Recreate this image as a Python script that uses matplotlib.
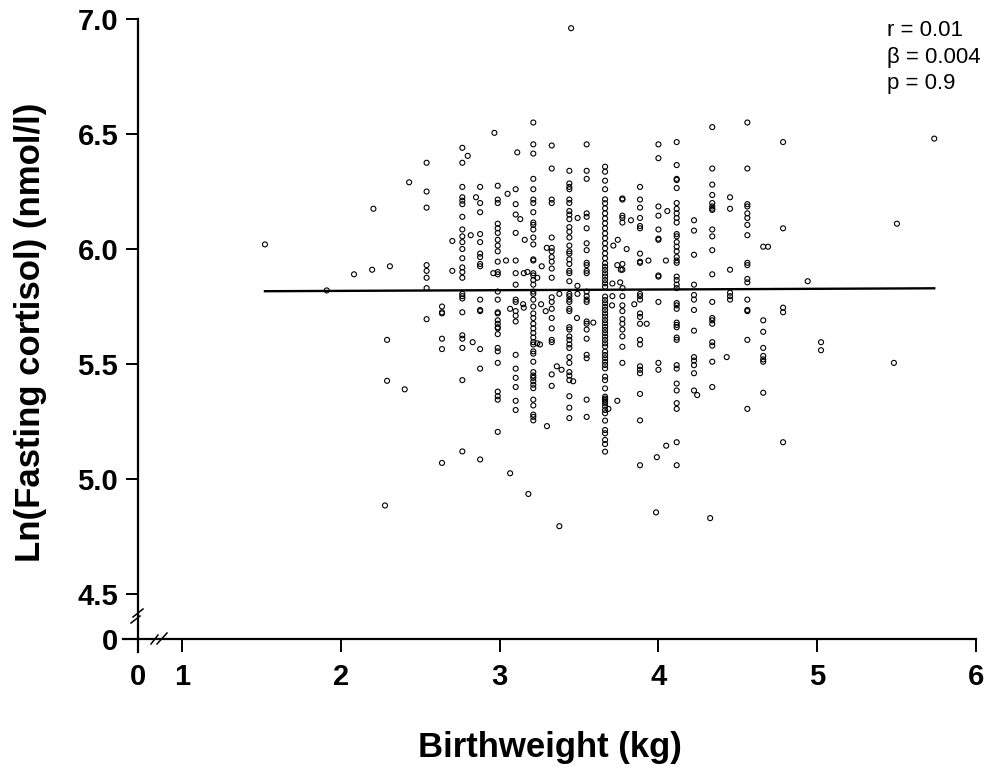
import numpy as np
import matplotlib
matplotlib.use('Agg')
from matplotlib import pyplot as plt
from matplotlib.lines import Line2D

plt.rcParams['font.family'] = ['Liberation Sans', 'DejaVu Sans']

# birthweight columns (kg) and ln(fasting cortisol)
col_bw = [2.54, 2.637, 2.765, 2.877, 2.988, 3.101, 3.212, 3.328, 3.439, 3.548,
          3.664, 3.773, 3.884, 4.0, 4.115, 4.224, 4.339, 4.451, 4.56, 4.66, 4.785]

col_cortisol = [
    [6.375, 6.25, 6.18, 5.93, 5.905, 5.875, 5.83, 5.695],
    [5.75, 5.725, 5.72, 5.61, 5.565, 5.07],
    [6.44, 6.375, 6.27, 6.225, 6.21, 6.195, 6.14, 6.085, 6.055, 6.03, 6.0, 5.96,
     5.92, 5.9, 5.875, 5.805, 5.795, 5.785, 5.725, 5.625, 5.61, 5.57, 5.43, 5.12],
    [6.27, 6.2, 6.16, 6.065, 6.03, 5.98, 5.965, 5.935, 5.925, 5.78, 5.735, 5.73,
     5.565, 5.48, 5.085],
    [6.275, 6.215, 6.2, 6.11, 6.09, 6.07, 6.04, 6.015, 5.99, 5.945, 5.9, 5.89,
     5.815, 5.78, 5.725, 5.72, 5.69, 5.675, 5.66, 5.655, 5.63, 5.57, 5.555, 5.505,
     5.38, 5.36, 5.345, 5.205],
    [6.26, 6.195, 6.15, 6.07, 5.95, 5.895, 5.845, 5.78, 5.77, 5.73, 5.71, 5.685,
     5.54, 5.48, 5.44, 5.4, 5.34, 5.3],
    [6.55, 6.455, 6.415, 6.305, 6.26, 6.215, 6.2, 6.16, 6.115, 6.105, 6.085, 6.05,
     6.02, 5.955, 5.95, 5.895, 5.885, 5.865, 5.845, 5.815, 5.805, 5.78, 5.75, 5.72,
     5.7, 5.675, 5.655, 5.635, 5.615, 5.595, 5.585, 5.555, 5.545, 5.51, 5.465, 5.45,
     5.44, 5.425, 5.41, 5.395, 5.345, 5.32, 5.28, 5.27, 5.255],
    [6.45, 6.35, 6.215, 6.2, 6.05, 6.005, 5.99, 5.965, 5.945, 5.915, 5.875, 5.79,
     5.77, 5.74, 5.7, 5.655, 5.605, 5.595, 5.455, 5.405],
    [6.34, 6.285, 6.27, 6.26, 6.215, 6.2, 6.165, 6.15, 6.13, 6.095, 6.075, 6.05,
     6.015, 5.99, 5.98, 5.955, 5.935, 5.905, 5.895, 5.86, 5.805, 5.795, 5.78, 5.77,
     5.74, 5.73, 5.66, 5.65, 5.62, 5.605, 5.585, 5.57, 5.53, 5.505, 5.465, 5.45,
     5.43, 5.36, 5.31, 5.265],
    [6.455, 6.34, 6.305, 6.155, 6.14, 6.09, 6.025, 5.995, 5.94, 5.93, 5.905, 5.895,
     5.815, 5.795, 5.78, 5.77, 5.685, 5.675, 5.65, 5.61, 5.54, 5.525, 5.345, 5.27],
    [6.358, 6.336, 6.297, 6.26, 6.216, 6.199, 6.177, 6.155, 6.133, 6.112, 6.09,
     6.068, 6.047, 6.025, 6.003, 5.981, 5.96, 5.938, 5.923, 5.909, 5.894, 5.88,
     5.865, 5.851, 5.836, 5.793, 5.778, 5.764, 5.749, 5.735, 5.72, 5.706, 5.691,
     5.677, 5.662, 5.648, 5.634, 5.619, 5.605, 5.59, 5.576, 5.554, 5.539, 5.525,
     5.51, 5.496, 5.481, 5.445, 5.43, 5.394, 5.358, 5.35, 5.344, 5.336, 5.329,
     5.315, 5.3, 5.286, 5.254, 5.213, 5.199, 5.17, 5.152, 5.119],
    [6.22, 6.215, 6.145, 6.135, 6.115, 5.935, 5.91, 5.795, 5.755, 5.73, 5.695,
     5.675, 5.65, 5.62, 5.575, 5.505],
    [6.27, 6.215, 6.18, 6.135, 6.1, 6.09, 5.98, 5.945, 5.94, 5.805, 5.795, 5.78,
     5.72, 5.705, 5.675, 5.605, 5.585, 5.49, 5.475, 5.46, 5.37, 5.255, 5.06],
    [6.455, 6.395, 6.185, 6.145, 6.085, 6.045, 6.04, 5.885, 5.88, 5.77, 5.505, 5.475],
    [6.465, 6.365, 6.305, 6.3, 6.265, 6.2, 6.175, 6.155, 6.135, 6.115, 6.065, 6.055,
     6.03, 6.01, 5.99, 5.965, 5.95, 5.94, 5.88, 5.865, 5.845, 5.83, 5.765, 5.755,
     5.74, 5.68, 5.67, 5.66, 5.615, 5.605, 5.495, 5.48, 5.415, 5.385, 5.33, 5.305,
     5.16, 5.06],
    [6.125, 6.08, 5.975, 5.845, 5.8, 5.78, 5.735, 5.645, 5.53, 5.515, 5.495, 5.46, 5.385],
    [6.53, 6.35, 6.28, 6.235, 6.2, 6.185, 6.175, 6.17, 6.085, 6.055, 5.995, 5.89,
     5.77, 5.7, 5.69, 5.675, 5.595, 5.58, 5.51, 5.4],
    [6.225, 6.175, 5.91, 5.81, 5.795, 5.78],
    [6.55, 6.35, 6.195, 6.185, 6.155, 6.135, 6.105, 6.06, 5.94, 5.93, 5.87, 5.855,
     5.78, 5.735, 5.73, 5.605, 5.305],
    [6.01, 5.69, 5.64, 5.57, 5.535, 5.52, 5.51, 5.375],
    [6.465, 6.09, 5.745, 5.725, 5.16],
]

# points that sit off the main columns
extra_bw = [1.522, 1.911, 2.083, 2.197, 2.309, 2.205, 2.43, 2.291, 2.291, 2.402, 2.278,
            2.702, 2.702, 2.799, 2.818, 2.83, 2.851, 2.967, 2.96, 3.04, 3.05,
            3.111, 3.13, 3.158, 3.152, 3.175, 3.066, 3.148, 3.152, 3.066,
            3.237, 3.265, 3.237, 3.254, 3.29, 3.261, 3.181, 3.297, 3.376, 3.298,
            3.491, 3.49, 3.49, 3.487, 3.36, 3.39, 3.463, 3.376, 3.45, 3.59,
            3.716, 3.744, 3.71, 3.741, 3.8, 3.71, 3.708, 3.763, 3.759, 3.774, 3.685, 3.741,
            3.827, 3.848, 3.937, 3.926, 4.056, 4.047, 3.99, 4.049, 3.985,
            4.244, 4.326, 4.43, 4.69, 4.94, 5.024, 5.024, 5.502, 5.483, 5.737]
extra_cortisol = [6.02, 5.82, 5.89, 5.91, 5.925, 6.175, 6.29, 5.605, 5.427, 5.39, 4.885,
                  6.035, 5.905, 6.405, 6.06, 5.595, 6.225, 6.505, 5.895, 5.95, 6.24,
                  6.42, 6.13, 6.04, 5.895, 5.9, 5.74, 5.76, 5.745, 5.025,
                  5.875, 5.925, 5.59, 5.585, 5.73, 5.76, 4.935, 6.005, 5.805, 5.23,
                  6.135, 5.84, 5.805, 5.7, 5.49, 5.475, 5.425, 4.795, 6.96, 5.68,
                  6.015, 6.04, 5.85, 5.93, 6.0, 5.795, 5.755, 5.91, 5.855, 5.83, 5.305, 5.34,
                  6.125, 5.76, 5.95, 5.675, 6.165, 5.95, 5.095, 5.145, 4.855,
                  5.365, 4.83, 5.53, 6.01, 5.86, 5.595, 5.56, 6.11, 5.505, 6.48]

fit_intercept = 5.812
fit_slope = 0.003
stats_text = ['r = 0.01', 'β = 0.004', 'p = 0.9']

x_ticks = [1, 2, 3, 4, 5, 6]
y_ticks = [4.5, 5.0, 5.5, 6.0, 6.5, 7.0]
x_zero = 0.72    # where the broken x axis shows "0"
y_zero = 4.304   # where the broken y axis shows "0"

bw = np.concatenate([np.full(len(v), b) for b, v in zip(col_bw, col_cortisol)] + [extra_bw])
cort = np.concatenate([np.array(v) for v in col_cortisol] + [np.array(extra_cortisol)])

W, H = 999, 770
fig = plt.figure(figsize=(W / 100, H / 100), dpi=100)
ax = fig.add_axes([123 / W, 1 - 652 / H, (976 - 123) / W, (652 - 19) / H])
ax.set_xlim(0.628, 6.0)
ax.set_ylim(4.248, 7.0)
ax.patch.set_visible(False)

ax.scatter(bw, cort, s=13, facecolors='none', edgecolors='black', linewidths=0.8, clip_on=False)
line_x = np.array([bw.min(), bw.max()])
ax.plot(line_x, fit_intercept + fit_slope * line_x, color='black', lw=1.7)

for s in ['top', 'right']:
    ax.spines[s].set_visible(False)
ax.spines['left'].set_position(('data', x_zero))
ax.spines['bottom'].set_position(('data', y_zero))
ax.spines['left'].set_bounds(4.248, 7.0)
ax.spines['bottom'].set_bounds(0.628, 6.0)
for s in ['left', 'bottom']:
    ax.spines[s].set_linewidth(1.6)

ax.set_xticks([x_zero] + x_ticks)
ax.set_xticklabels(['0'] + [str(t) for t in x_ticks])
ax.set_yticks([y_zero] + y_ticks)
ax.set_yticklabels(['0'] + ['%.1f' % t for t in y_ticks])
ax.tick_params(axis='both', direction='out', length=9, width=1.4, labelsize=21)
ax.tick_params(axis='x', pad=8)
ax.tick_params(axis='y', pad=5)
for lab in ax.get_xticklabels() + ax.get_yticklabels():
    lab.set_fontweight('bold')

# axis break marks
for (x1, y1, x2, y2) in [(131, 623, 140, 616), (133, 617, 143, 609),
                         (151, 644, 158, 635), (157, 644, 167, 633)]:
    fig.add_artist(Line2D([x1, x2], [H - y1, H - y2], transform=None, color='black', lw=1.1))

fig.text(550 / W, 1 - 748 / H, 'Birthweight (kg)', ha='center', va='center',
         fontsize=25, fontweight='bold')
fig.text(31 / W, 1 - 332 / H, 'Ln(Fasting cortisol) (nmol/l)', ha='center', va='center',
         rotation=90, fontsize=25, fontweight='bold')

for i, t in enumerate(stats_text):
    fig.text(887 / W, 1 - (31 + 26 * i) / H, t, ha='left', va='center', fontsize=16)

fig.savefig('out.png', dpi=100)
